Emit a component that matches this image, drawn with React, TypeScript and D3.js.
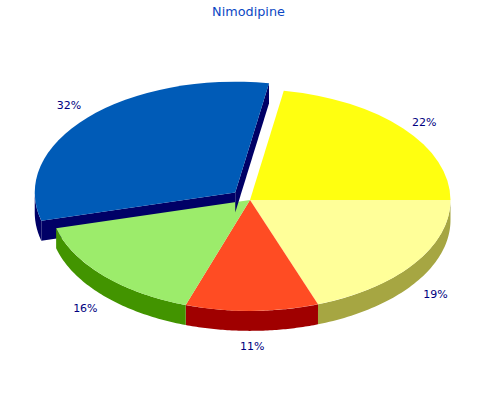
import React from 'react';
import * as d3 from 'd3';

const title = 'Nimodipine';
const labels = ['22%', '19%', '11%', '16%', '32%'];
const shares = [22.3, 19.5, 10.7, 15.7, 31.8];
const topColors = ['#ffff10', '#ffff99', '#ff4c23', '#9cec6b', '#005bb7'];
const sideColors = ['#a6a60a', '#a6a642', '#a00000', '#429400', '#000066'];
const exploded = [false, false, false, false, true];

const width = 500;
const height = 400;
const cx = 250;
const cy = 200;
const rx = 200.5;
const squash = 0.553;
const depth = 20;
const explodeBy = 20;
const labelRadius = 228;
const startDeg = 9.7;
// small hand corrections for the label boxes, in pixels
const labelNudge = [[0, 3], [-1, 2], [0, 0], [2, 2], [2, -2]];

const toRad = (deg: number) => (deg * Math.PI) / 180;

const arcs = d3
  .pie<number>()
  .sort(null)
  .startAngle(toRad(startDeg))
  .endAngle(toRad(startDeg + 360))(shares);

const arcGen = d3.arc<d3.PieArcDatum<number>>().innerRadius(0).outerRadius(rx);

// offset of a slice centre once it is pulled out of the pie
const offsetOf = (d: d3.PieArcDatum<number>, i: number) => {
  if (!exploded[i]) return [0, 0];
  const mid = (d.startAngle + d.endAngle) / 2;
  return [Math.sin(mid) * explodeBy, -Math.cos(mid) * explodeBy * squash];
};

const onRim = (a: number, ox: number, oy: number): [number, number] => [
  cx + ox + Math.sin(a) * rx,
  cy + oy - Math.cos(a) * rx * squash,
];

const line = d3.line();

// curved outer wall, only the part that faces the viewer
const rimPath = (d: d3.PieArcDatum<number>, i: number) => {
  const a0 = Math.max(d.startAngle, Math.PI / 2);
  const a1 = Math.min(d.endAngle, (Math.PI * 3) / 2);
  if (a1 <= a0) return null;
  const [ox, oy] = offsetOf(d, i);
  const n = 60;
  const top = d3.range(n + 1).map((k) => onRim(a0 + ((a1 - a0) * k) / n, ox, oy));
  const bottom = top.map(([x, y]) => [x, y + depth] as [number, number]).reverse();
  return line([...top, ...bottom]) + 'Z';
};

// flat wall along one radial edge of a slice
const radialPath = (d: d3.PieArcDatum<number>, i: number, a: number) => {
  const [ox, oy] = offsetOf(d, i);
  const p = onRim(a, ox, oy);
  const c: [number, number] = [cx + ox, cy + oy];
  return (
    line([c, p, [p[0], p[1] + depth], [c[0], c[1] + depth]]) + 'Z'
  );
};

const topSlice = (d: d3.PieArcDatum<number>, i: number) => {
  const [ox, oy] = offsetOf(d, i);
  return (
    <path
      key={`top-${i}`}
      d={arcGen(d) || ''}
      fill={topColors[i]}
      transform={`translate(${cx + ox},${cy + oy}) scale(1,${squash})`}
    />
  );
};

export default function App() {
  const pulled = arcs.map((d, i) => ({ d, i })).filter((s) => exploded[s.i]);
  const flat = arcs.map((d, i) => ({ d, i })).filter((s) => !exploded[s.i]);

  return (
    <svg
      width={width}
      height={height}
      style={{ position: 'absolute', left: 0, top: 0, background: '#fff' }}
      fontFamily="'DejaVu Sans', sans-serif"
    >
      <text x={248.5} y={16} textAnchor="middle" fontSize={12.8} fill="#0b47c4">
        {title}
      </text>

      {pulled.map(({ d, i }) => (
        <g key={`back-${i}`} fill={sideColors[i]}>
          <path d={radialPath(d, i, d.startAngle)} />
          <path d={rimPath(d, i) || ''} />
        </g>
      ))}
      {flat.map(({ d, i }) => (
        <path key={`rim-${i}`} d={rimPath(d, i) || ''} fill={sideColors[i]} />
      ))}
      {flat.map(({ d, i }) => topSlice(d, i))}
      {pulled.map(({ d, i }) => (
        <g key={`front-${i}`}>
          <path d={radialPath(d, i, d.endAngle)} fill={sideColors[i]} />
          {topSlice(d, i)}
        </g>
      ))}

      {arcs.map((d, i) => {
        const mid = (d.startAngle + d.endAngle) / 2;
        const [ox, oy] = offsetOf(d, i);
        const cosMid = Math.cos(mid);
        const x = cx + ox + Math.sin(mid) * labelRadius + labelNudge[i][0];
        const y = cy + oy - cosMid * labelRadius * squash + (cosMid < 0 ? depth : 0) + labelNudge[i][1];
        return (
          <text
            key={labels[i]}
            x={x}
            y={y}
            dy="0.35em"
            textAnchor="middle"
            fontSize={11}
            fill="#000080"
          >
            {labels[i]}
          </text>
        );
      })}
    </svg>
  );
}
